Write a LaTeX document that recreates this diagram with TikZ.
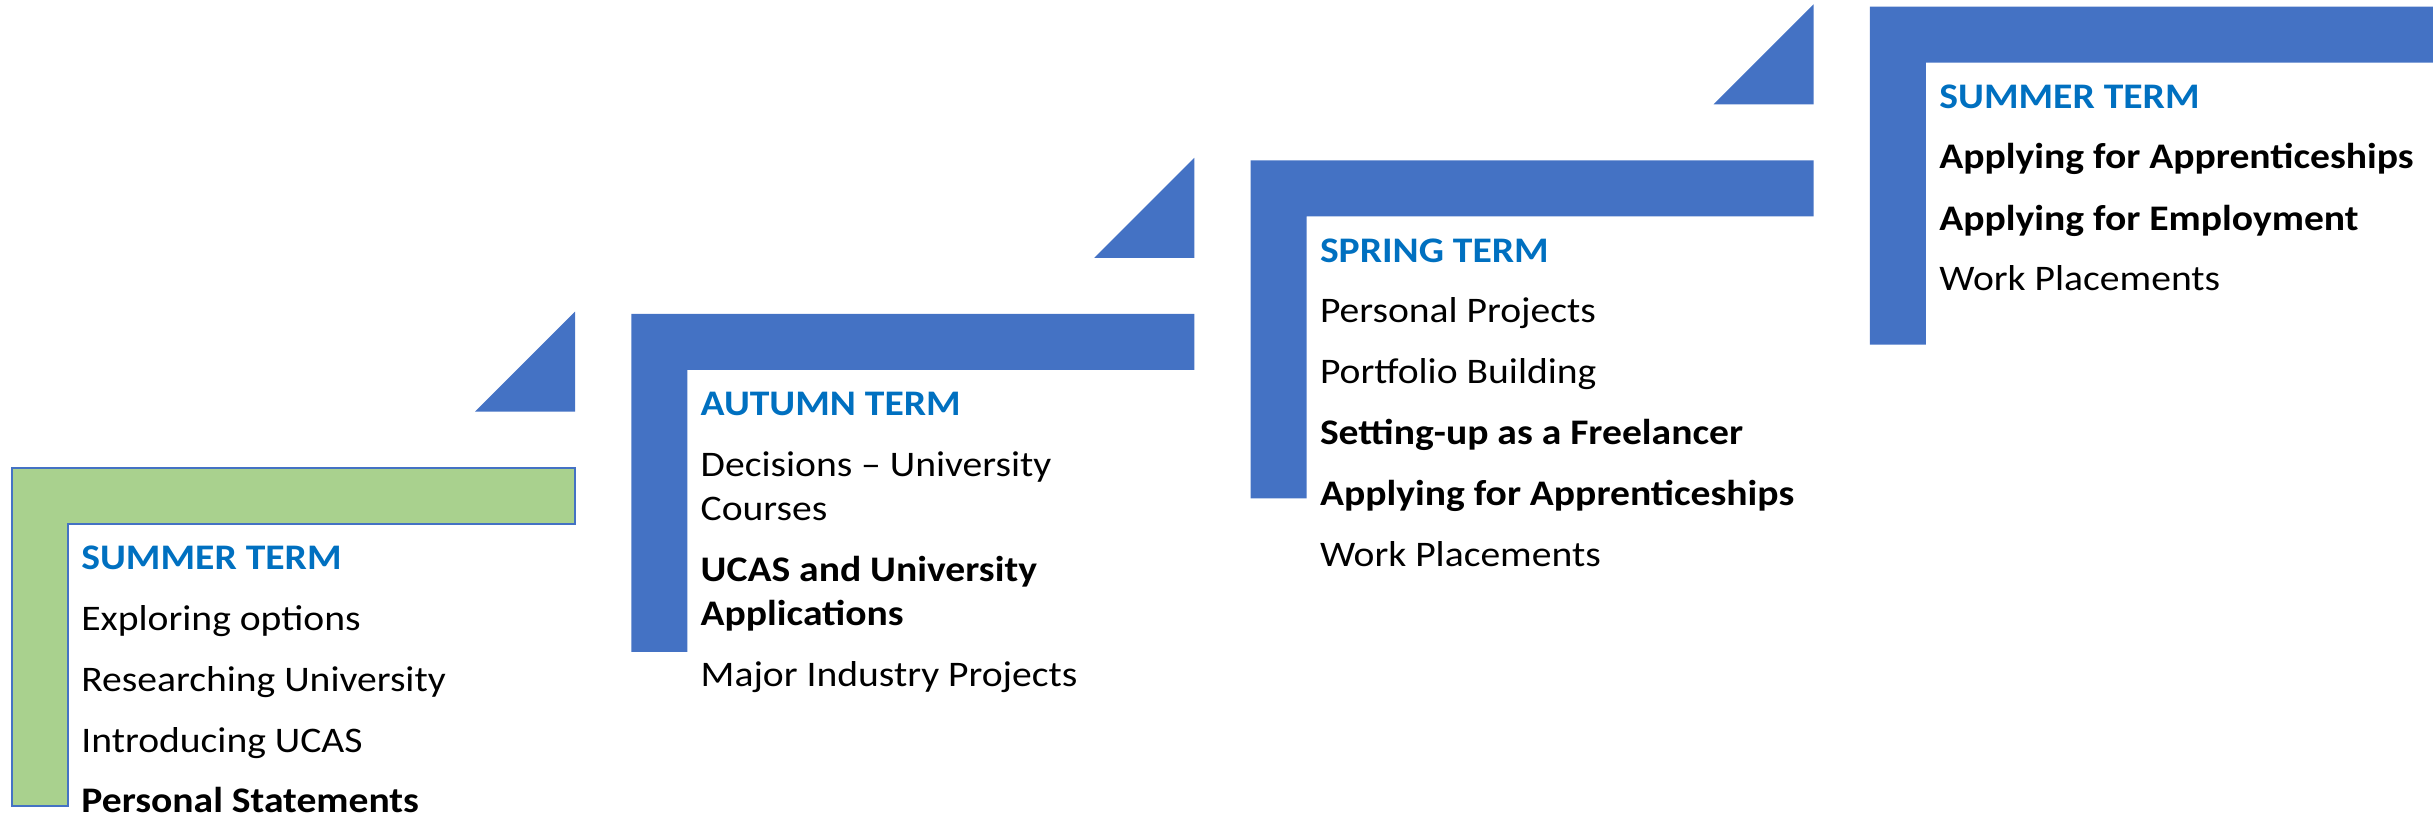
\documentclass[tikz,border=0pt]{standalone}
\usepackage{fontspec}
\setmainfont{Carlito}[FakeStretch=1.1]
\usepackage{tikz}
\definecolor{stepblue}{HTML}{4472C4}
\definecolor{stepgreen}{HTML}{A9D18E}
\definecolor{termblue}{HTML}{0070C0}
\tikzset{
  termtitle/.style={anchor=base west, inner sep=0pt, text=termblue, font=\fontsize{18}{21.6}\selectfont\bfseries},
  item/.style={anchor=base west, inner sep=0pt, font=\fontsize{18}{21.6}\selectfont},
  bolditem/.style={item, font=\fontsize{18}{21.6}\selectfont\bfseries}
}

\begin{document}
\begin{tikzpicture}[x=0.5pt,y=-0.5pt]
\useasboundingbox (0,0) rectangle (2433,815);
%%%%% Steps %%%%%
\foreach \i in {0,1,2,3}{
\pgfmathsetmacro{\X}{12+619.3*\i}
\pgfmathsetmacro{\Y}{467.5-153.6*\i}
\coordinate (s\i) at (\X,\Y);
\fill[stepblue] (s\i) -- ++(563,0) -- ++(0,56) -- ++(-507,0) -- ++(0,282) -- ++(-56,0) -- cycle;
}
\foreach \i in {0,1,2}{
\fill[stepblue] ([shift={(463,-56)}]s\i) -- ++(100,0) -- ++(0,-100) -- cycle;
}
\filldraw[fill=stepgreen, draw=stepblue, line width=1pt] (s0) -- ++(563,0) -- ++(0,56) -- ++(-507,0) -- ++(0,282) -- ++(-56,0) -- cycle;

%%%%% Summer term (start) %%%%%
\node[termtitle] (t0) at (81,569) {SUMMER TERM};
\node[item] (t0a) at (81,630) {Exploring options};
\node[item] (t0b) at (81,691) {Researching University};
\node[item] (t0c) at (81,752) {Introducing UCAS};
\node[bolditem] (t0d) at (81,812) {Personal Statements};

%%%%% Autumn term %%%%%
\node[termtitle] (t1) at (700.3,415.6) {AUTUMN TERM};
\node[item] (t1a) at (700.3,476.6) {Decisions -- University};
\node[item] (t1b) at (700.3,520.2) {Courses};
\node[bolditem] (t1c) at (700.3,581.6) {UCAS and University};
\node[bolditem] (t1d) at (700.3,625.4) {Applications};
\node[item] (t1e) at (700.3,686.4) {Major Industry Projects};

%%%%% Spring term %%%%%
\node[termtitle] (t2) at (1319.6,262.2) {SPRING TERM};
\node[item] (t2a) at (1319.6,322.8) {Personal Projects};
\node[item] (t2b) at (1319.6,383.4) {Portfolio Building};
\node[bolditem] (t2c) at (1319.6,444.4) {Setting-up as a Freelancer};
\node[bolditem] (t2d) at (1319.6,505.2) {Applying for Apprenticeships};
\node[item] (t2e) at (1319.6,566.2) {Work Placements};

%%%%% Summer term (end) %%%%%
\node[termtitle] (t3) at (1939,108.2) {SUMMER TERM};
\node[bolditem] (t3a) at (1939,168.8) {Applying for Apprenticeships};
\node[bolditem] (t3b) at (1939,230) {Applying for Employment};
\node[item] (t3c) at (1939,290.8) {Work Placements};
\end{tikzpicture}
\end{document}
